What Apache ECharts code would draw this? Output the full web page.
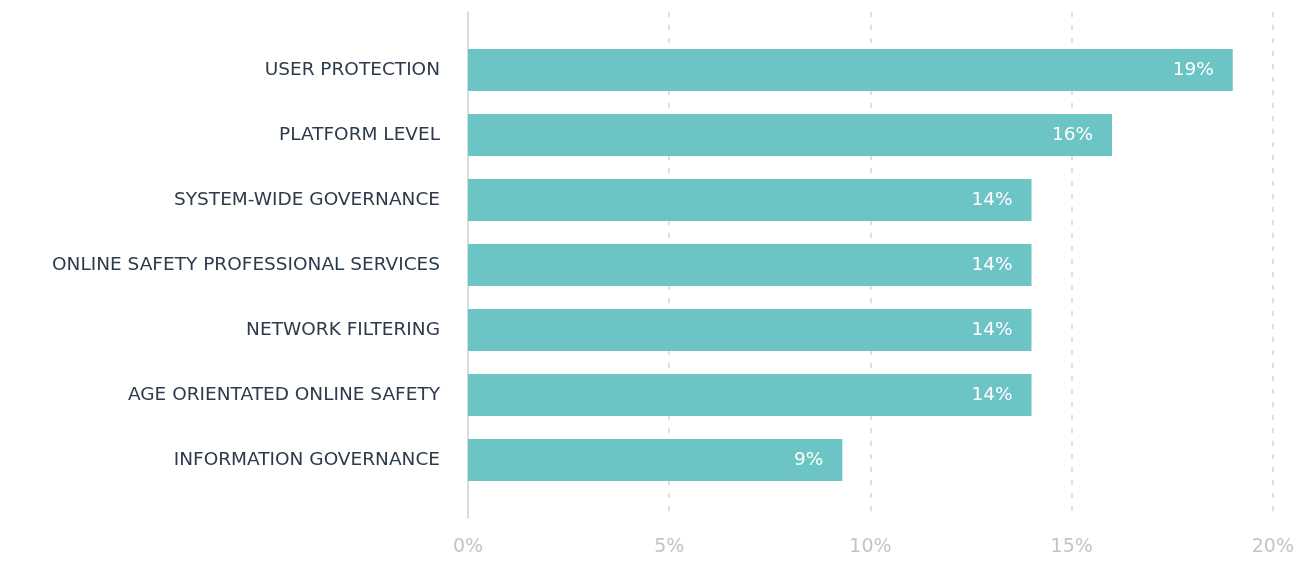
<!DOCTYPE html>
<html>
<head>
<meta charset="utf-8">
<script src="https://cdn.jsdelivr.net/npm/echarts@6/dist/echarts.min.js"></script>
<style>
  html, body { margin: 0; padding: 0; background: #fff; }
  #chart { width: 1297px; height: 562px; }
</style>
</head>
<body>
<div id="chart"></div>
<script>
const categories = [
  'USER PROTECTION',
  'PLATFORM LEVEL',
  'SYSTEM-WIDE GOVERNANCE',
  'ONLINE SAFETY PROFESSIONAL SERVICES',
  'NETWORK FILTERING',
  'AGE ORIENTATED ONLINE SAFETY',
  'INFORMATION GOVERNANCE'
];
const shares = [19, 16, 14, 14, 14, 14, 9.3];
const xTicks = [0, 5, 10, 15, 20];

const barColor = '#6cc4c4';
// wide face so the spaced-out caps of the original line up
const labelFont = '"DejaVu Sans", Verdana, sans-serif';

const chart = echarts.init(document.getElementById('chart'), null, { renderer: 'canvas' });

const option = {
  animation: false,
  grid: [
    // frame: axis line, dashed splits, bottom labels
    { left: 468, right: 24, top: 12, bottom: 44 },
    // bars
    { left: 468, right: 24, top: 37.5, height: 455 }
  ],
  xAxis: [
    {
      gridIndex: 0,
      type: 'value',
      min: 0,
      max: 20,
      interval: 5,
      axisLine: { show: false },
      axisTick: { show: false },
      axisLabel: {
        color: '#c4c4c4',
        fontSize: 19,
        fontFamily: labelFont,
        margin: 20,
        formatter: (v) => xTicks.includes(v) ? v + '%' : ''
      },
      splitLine: {
        show: true,
        showMinLine: false,
        lineStyle: { color: '#d6d6d6', type: [5, 8], width: 1.5 }
      }
    },
    {
      gridIndex: 1,
      type: 'value',
      min: 0,
      max: 20,
      show: false
    }
  ],
  yAxis: [
    {
      gridIndex: 0,
      type: 'value',
      min: 0,
      max: 1,
      axisLine: { show: true, lineStyle: { color: '#cfcfcf', width: 1.5 } },
      axisTick: { show: false },
      axisLabel: { show: false },
      splitLine: { show: false }
    },
    {
      gridIndex: 1,
      type: 'category',
      inverse: true,
      data: categories,
      axisLine: { show: false },
      axisTick: { show: false },
      splitLine: { show: false },
      axisLabel: {
        color: '#2c3a4b',
        fontSize: 18.5,
        fontFamily: labelFont,
        margin: 28
      }
    }
  ],
  series: [{
    type: 'bar',
    xAxisIndex: 1,
    yAxisIndex: 1,
    data: shares,
    barWidth: 42,
    itemStyle: { color: barColor },
    label: {
      show: true,
      position: 'insideRight',
      distance: 19,
      color: '#ffffff',
      fontSize: 18.5,
      fontFamily: labelFont,
      formatter: (p) => Math.round(p.value) + '%'
    }
  }]
};

chart.setOption(option);
</script>
</body>
</html>
